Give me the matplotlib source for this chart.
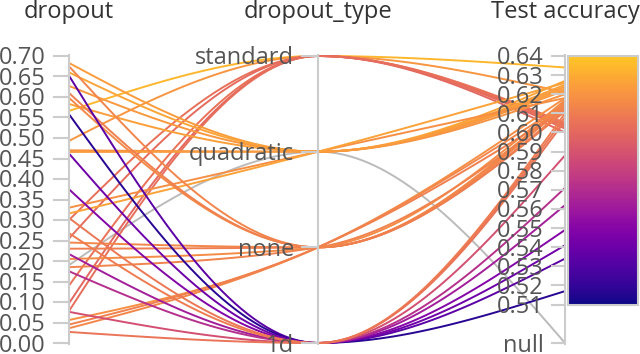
import numpy as np
import matplotlib
matplotlib.use("Agg")
import matplotlib.pyplot as plt
from matplotlib.colors import Normalize, LinearSegmentedColormap
from matplotlib.cm import ScalarMappable

plt.rcParams['font.family'] = ['Open Sans', 'DejaVu Sans']

# data ------------------------------------------------------------------
dropout = [0.566, 0.493, 0.300, 0.255, 0.140, 0.097, 0.078,
           0.683, 0.660, 0.627, 0.583, 0.470, 0.466, 0.330, 0.316, 0.190,
           0.675, 0.598, 0.610, 0.245, 0.230, 0.205, 0.185, 0.056, 0.036, 0.045,
           0.652, 0.558, 0.462, 0.375, 0.217, 0.175, 0.076, 0.305, 0.268, 0.027]
dropout_type = (['standard'] * 7 + ['quadratic'] * 9 + ['none'] * 10 + ['1d'] * 10)
test_acc = [0.634, 0.621, 0.604, 0.602, 0.605, 0.600, 0.603,
            0.624, 0.627, 0.622, 0.625, 0.620, 0.623, 0.618, 0.626, None,
            0.614, 0.616, 0.612, 0.615, 0.611, 0.617, 0.613, 0.618, 0.615, 0.612,
            0.534, 0.517, 0.541, 0.549, 0.562, 0.571, 0.588, 0.608, 0.610, 0.606]

type_order = ['standard', 'quadratic', 'none', '1d']
dropout_ticks = np.round(np.arange(0, 0.701, 0.05), 2)
acc_ticks = np.round(np.arange(0.51, 0.6401, 0.01), 2)

# layout (pixels) -------------------------------------------------------
AX_X = [69, 318, 565]
TOP, BOT = 56, 343
ACC_BOT = 304.5
GRID = '#cccccc'
TXT = '#555555'
TITLE = '#333333'

def y_dropout(v):
    return BOT - v / 0.7 * (BOT - TOP)

def y_type(t):
    return TOP + type_order.index(t) * (BOT - TOP) / (len(type_order) - 1)

def y_acc(v):
    if v is None:
        return BOT
    return ACC_BOT - (v - 0.51) / 0.13 * (ACC_BOT - TOP)

def mono_curve(xs, ys, n=40):
    # d3 curveMonotoneX for 3 points
    h = xs[1] - xs[0]
    s0 = (ys[1] - ys[0]) / h
    s1 = (ys[2] - ys[1]) / h
    p = (s0 + s1) / 2
    t1 = (np.sign(s0) + np.sign(s1)) * min(abs(s0), abs(s1), 0.5 * abs(p))
    t0 = (3 * s0 - t1) / 2
    t2 = (3 * s1 - t1) / 2
    u = np.linspace(0, 1, n)
    h00 = 2 * u**3 - 3 * u**2 + 1
    h10 = u**3 - 2 * u**2 + u
    h01 = -2 * u**3 + 3 * u**2
    h11 = u**3 - u**2
    px, py = [], []
    for (xa, ya, ta, xb, yb, tb) in [(xs[0], ys[0], t0, xs[1], ys[1], t1),
                                     (xs[1], ys[1], t1, xs[2], ys[2], t2)]:
        dx = xb - xa
        px.append(xa + u * dx)
        py.append(h00 * ya + h10 * dx * ta + h01 * yb + h11 * dx * tb)
    return np.concatenate(px), np.concatenate(py)

cmap = LinearSegmentedColormap.from_list('plasma_cut', plt.cm.plasma(np.linspace(0, 0.88, 256)))
norm = Normalize(0.51, 0.64)

fig = plt.figure(figsize=(6.4, 3.54), dpi=100)
ax = fig.add_axes([0, 0, 1, 1])
ax.set_xlim(0, 640)
ax.set_ylim(354, 0)
ax.axis('off')

# lines
for d, t, a in zip(dropout, dropout_type, test_acc):
    ys = [y_dropout(d), y_type(t), y_acc(a)]
    xx, yy = mono_curve(AX_X, ys)
    color = '#bbbbbb' if a is None else cmap(norm(a))
    ax.plot(xx, yy, color=color, lw=1.4, solid_capstyle='round', zorder=2 if a else 1)

# axes lines
for x in AX_X:
    ax.plot([x, x], [TOP - 1, BOT + 1], color=GRID, lw=1.5, zorder=3)

# dropout axis
for v in dropout_ticks:
    y = y_dropout(v)
    ax.plot([AX_X[0] - 15, AX_X[0]], [y, y], color=GRID, lw=1.5, zorder=3)
    ax.text(AX_X[0] - 23, y + 8.5, f'{v:.2f}', ha='right', va='baseline',
            fontsize=17, color=TXT, zorder=4)

# dropout_type axis
for t in type_order:
    y = y_type(t)
    ax.plot([AX_X[1] - 16, AX_X[1]], [y, y], color=GRID, lw=1.5, zorder=3)
    ax.text(AX_X[1] - 24, y + 8.5, t, ha='right', va='baseline',
            fontsize=17, color=TXT, zorder=4)

# accuracy axis
for v in acc_ticks:
    y = y_acc(v)
    ax.plot([AX_X[2] - 13, AX_X[2]], [y, y], color=GRID, lw=1.5, zorder=3)
    ax.text(AX_X[2] - 21, y + 8.5, f'{v:.2f}', ha='right', va='baseline',
            fontsize=17, color=TXT, zorder=4)
ax.plot([AX_X[2] - 13, AX_X[2]], [BOT, BOT], color=GRID, lw=1.5, zorder=3)
ax.text(AX_X[2] - 21, BOT + 8.5, 'null', ha='right', va='baseline',
        fontsize=17, color=TXT, zorder=4)

# titles
for x, name in zip(AX_X, ['dropout', 'dropout_type', 'Test accuracy']):
    ax.text(x, 18, name, ha='center', va='baseline', fontsize=17, color=TITLE)

# colorbar
cax = fig.add_axes([568 / 640, (354 - 305) / 354, 70 / 640, 249 / 354])
cb = fig.colorbar(ScalarMappable(norm=norm, cmap=cmap), cax=cax)
cb.set_ticks([])
cb.outline.set_edgecolor(GRID)
cb.outline.set_linewidth(1.5)

fig.savefig('out.png', dpi=100)
